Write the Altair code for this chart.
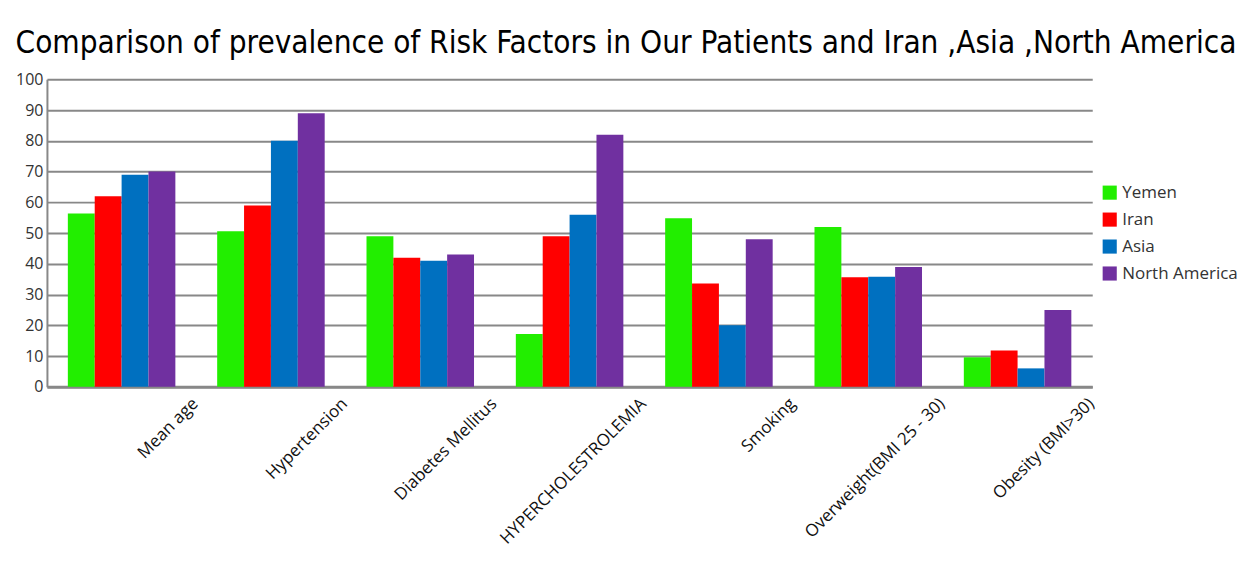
import altair as alt
import pandas as pd

categories = ["Mean age", "Hypertension", "Diabetes Mellitus", "HYPERCHOLESTROLEMIA",
              "Smoking", "Overweight(BMI 25 - 30)", "Obesity (BMI>30)"]
series = ["Yemen", "Iran", "Asia", "North America"]
yemen = [56.4, 50.6, 49, 17.2, 54.8, 52, 9.6]
iran = [62, 59, 42, 49, 33.6, 35.6, 11.8]
asia = [69, 80, 41, 56, 20, 35.8, 6]
north_america = [70, 89, 43, 82, 48, 39, 25]
colors = ["#22EE00", "#FF0000", "#0070C0", "#7030A0"]
y_ticks = list(range(0, 101, 10))

rows = []
for name, vals in zip(series, [yemen, iran, asia, north_america]):
    for c, v in zip(categories, vals):
        rows.append({"category": c, "series": name, "value": v})
df = pd.DataFrame(rows)

chart = alt.Chart(df).mark_bar().encode(
    x=alt.X("category:N", sort=categories, title=None,
            scale=alt.Scale(paddingInner=0.28, paddingOuter=0.14),
            axis=alt.Axis(labelAngle=-45, labelAlign="right", labelBaseline="middle",
                          labelOffset=74, labelPadding=14, ticks=False,
                          domainColor="#888888", domainWidth=3,
                          labelFont="Open Sans", labelFontSize=17, labelColor="#111111",
                          labelLimit=400)),
    xOffset=alt.XOffset("series:N", sort=series),
    y=alt.Y("value:Q", title=None, scale=alt.Scale(domain=[0, 100], nice=False),
            axis=alt.Axis(values=y_ticks, gridColor="#888888", gridWidth=2,
                          domainColor="#888888", domainWidth=2, ticks=False,
                          labelFont="Open Sans", labelFontSize=16, labelColor="#333333",
                          labelPadding=4)),
    color=alt.Color("series:N", sort=series,
                    scale=alt.Scale(domain=series, range=colors),
                    legend=alt.Legend(title=None, orient="none", legendX=1056, legendY=105,
                                      symbolType="square", symbolSize=200,
                                      symbolStrokeWidth=0, labelFont="Open Sans",
                                      labelFontSize=17, labelColor="#333333",
                                      rowPadding=9)),
).properties(
    width=1047, height=308,
    title=alt.TitleParams("Comparison of prevalence of Risk Factors in Our Patients and Iran ,Asia ,North America",
                          font="DejaVu Sans Condensed, Roboto Condensed, Roboto, sans-serif",
                          fontSize=31.3, fontWeight="normal",
                          color="#000000", anchor="start", offset=12),
    padding={"left": 39, "top": 71, "right": 150, "bottom": 166},
    autosize=alt.AutoSizeParams(type="none"),
).configure_view(stroke=None)

chart.save("out.html", embed_options={"renderer": "svg", "actions": False})
